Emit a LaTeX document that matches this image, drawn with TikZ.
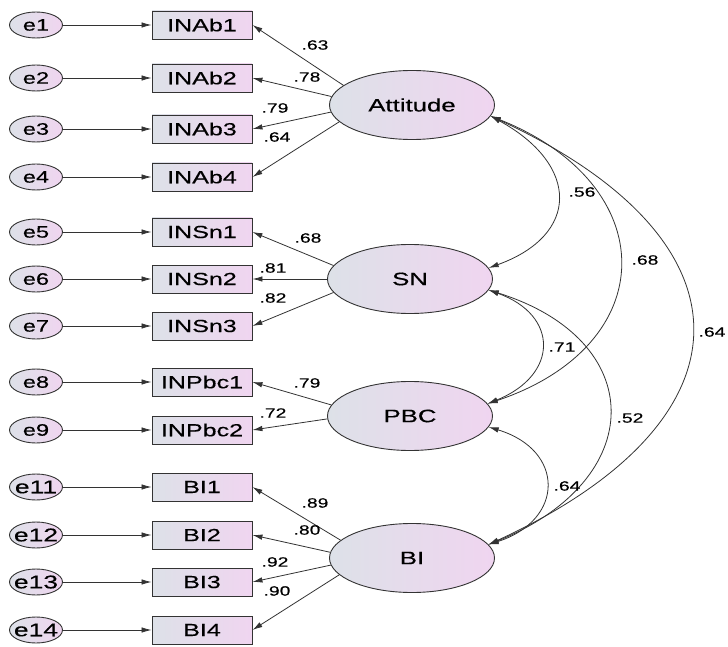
\documentclass[tikz,border=0pt]{standalone}
\usepackage{fontspec}
\setmainfont[FakeStretch=1.43,FakeBold=0.35]{Liberation Sans}
\usetikzlibrary{shapes.geometric,arrows.meta}
\definecolor{gL}{HTML}{DDE1E8}
\definecolor{gR}{HTML}{F0D5F0}
\definecolor{ln}{HTML}{333333}
\begin{document}
\begin{tikzpicture}[x=1pt,y=-1pt,
  grad/.style={left color=gL,right color=gR,draw=ln,line width=0.9pt},
  err/.style={grad,ellipse,minimum width=53pt,minimum height=26pt,inner sep=0pt},
  etxt/.style={inner sep=0pt,font=\fontsize{16.5}{17}\selectfont},
  etxtb/.style={inner sep=0pt,font=\fontsize{18.5}{19}\selectfont},
  obs/.style={grad,rectangle,minimum width=100pt,minimum height=28pt,inner sep=0pt,font=\fontsize{17.5}{18}\selectfont},
  lat/.style={grad,ellipse,minimum width=165pt,minimum height=69pt,inner sep=0pt,font=\fontsize{18}{19}\selectfont},
  arr/.style={draw=ln,line width=0.8pt,-{Latex[length=10pt,width=5.5pt]}},
  cov/.style={draw=ln,line width=0.8pt,{Latex[length=10pt,width=5.5pt]}-{Latex[length=10pt,width=5.5pt]}},
  lbl/.style={font=\fontsize{13.5}{14}\selectfont,inner sep=0pt}]
\useasboundingbox (0,0) rectangle (728,647);

% latent variables
\node[lat] (Att) at (412,105) {Attitude};
\node[lat] (SN)  at (410,279) {SN};
\node[lat] (PBC) at (410,416) {PBC};
\node[lat] (BI)  at (412,558) {BI};

% observed and errors
\foreach \n/\t/\y/\s in {e1/INAb1/25/etxt,e2/INAb2/78/etxt,e3/INAb3/129/etxt,e4/INAb4/177/etxt,
                     e5/INSn1/232/etxt,e6/INSn2/279/etxt,e7/INSn3/326/etxt,
                     e8/INPbc1/382/etxt,e9/INPbc2/430/etxt,
                     e11/BI1/487/etxtb,e12/BI2/535/etxtb,e13/BI3/582/etxtb,e14/BI4/630/etxtb}{
  \node[err] (\n) at (36,\y) {};
  \node[\s] (\n t) at (\n.center) {\n};
  \node[obs] (\t) at (202,\y) {\t};
  \draw[arr] (\n) -- (\t);
}

% loadings
\draw[arr] (Att.164) -- (INAb1.east);
\draw[arr] (Att.174) -- (INAb2.east);
\draw[arr] (Att.185) -- (INAb3.east);
\draw[arr] (Att.193) -- (INAb4.east);
\draw[arr] (SN.170) -- (INSn1.east);
\draw[arr] (SN.180) -- (INSn2.east);
\draw[arr] (SN.190) -- (INSn3.east);
\draw[arr] (PBC.172) -- (INPbc1.east);
\draw[arr] (PBC.182) -- (INPbc2.east);
\draw[arr] (BI.166) -- (BI1.east);
\draw[arr] (BI.176) -- (BI2.east);
\draw[arr] (BI.185) -- (BI3.east);
\draw[arr] (BI.193) -- (BI4.east);

\node[lbl] at (315,45) {.63};
\node[lbl] at (307,77) {.78};
\node[lbl] at (275,108) {.79};
\node[lbl] at (277,137) {.64};
\node[lbl] at (308,238) {.68};
\node[lbl] at (273,268) {.81};
\node[lbl] at (273,298) {.82};
\node[lbl] at (307,383) {.79};
\node[lbl] at (273,413) {.72};
\node[lbl] at (315,503) {.89};
\node[lbl] at (307,530) {.80};
\node[lbl] at (275,562) {.92};
\node[lbl] at (277,591) {.90};

% covariances
\draw[cov] (Att.-8) .. controls (580,165) and (580,235) .. (SN.8);
\draw[cov] (Att.-8) .. controls (663,185) and (663,345) .. (PBC.9);
\draw[cov] (Att.-8) .. controls (759,240) and (759,420) .. (BI.10);
\draw[cov] (SN.-8) .. controls (559,315) and (559,375) .. (PBC.9);
\draw[cov] (SN.-8) .. controls (649,340) and (649,480) .. (BI.10);
\draw[cov] (PBC.-8) .. controls (565,450) and (565,520) .. (BI.10);

\node[lbl] at (582,192) {.56};
\node[lbl] at (645,260) {.68};
\node[lbl] at (712,332) {.64};
\node[lbl] at (562,347) {.71};
\node[lbl] at (630,418) {.52};
\node[lbl] at (567,486) {.64};
\end{tikzpicture}
\end{document}
